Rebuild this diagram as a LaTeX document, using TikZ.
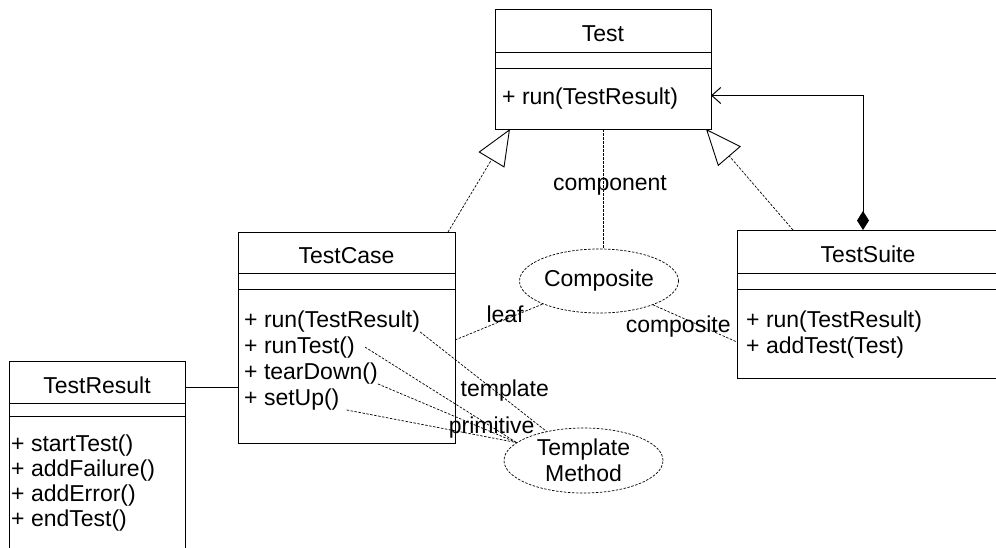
\documentclass[tikz,border=0pt]{standalone}
\usepackage{fontspec}
\setmainfont{Liberation Sans}
\usetikzlibrary{positioning,arrows.meta,shapes.geometric}

\begin{document}
\begin{tikzpicture}[x=1pt, y=-1pt, font=\fontsize{23}{26}\selectfont,
    box/.style={draw, line width=1pt, outer sep=0pt, inner sep=0pt},
    cname/.style={box, anchor=north west, text height=22pt, text depth=0pt},
    op/.style={anchor=base west, inner sep=0pt},
    dotline/.style={line width=0.7pt, dash pattern=on 2.5pt off 1.5pt},
    dpat/.style={ellipse, draw, dotline, inner sep=0pt, align=center},
    lbl/.style={inner sep=0pt},
    realize/.style={dotline, -{Triangle[open, length=36pt, width=30pt, line width=0.9pt]}},
    compose/.style={line width=1pt, {Diamond[length=19pt, width=12pt]}-{Straight Barb[length=9pt, width=16pt, line width=1pt]}},
    assoc/.style={line width=1pt}]
    \useasboundingbox (0,0) rectangle (996,547);
    \clip (0,0) rectangle (996,547);

    % Test
    \node[cname, minimum width=216pt, minimum height=43pt] (test) at (495,9) {Test};
    \node[box, below=0pt of test, minimum width=216pt, minimum height=16pt] (test-a) {};
    \node[box, below=0pt of test-a, minimum width=216pt, minimum height=61pt] (test-o) {};
    \node[op] (test-run) at ([shift={(7,36)}]test-o.north west) {+ run(TestResult)};

    % TestCase
    \node[cname, minimum width=217pt, minimum height=41pt] (tc) at (238,232) {TestCase};
    \node[box, below=0pt of tc, minimum width=217pt, minimum height=16pt] (tc-a) {};
    \node[box, below=0pt of tc-a, minimum width=217pt, minimum height=154pt] (tc-o) {};
    \foreach \n/\t [count=\i from 0] in {run/run(TestResult),runtest/runTest(),teardown/tearDown(),setup/setUp()}
        \node[op] (tc-\n) at ([shift={(6,38+26*\i)}]tc-o.north west) {+ \t};

    % TestSuite
    \node[cname, minimum width=262pt, minimum height=43pt] (ts) at (737,230) {TestSuite};
    \node[box, below=0pt of ts, minimum width=262pt, minimum height=16pt] (ts-a) {};
    \node[box, below=0pt of ts-a, minimum width=262pt, minimum height=89pt] (ts-o) {};
    \foreach \n/\t [count=\i from 0] in {run/run(TestResult),addtest/addTest(Test)}
        \node[op] (ts-\n) at ([shift={(9,38+26*\i)}]ts-o.north west) {+ \t};

    % TestResult
    \node[cname, minimum width=176pt, minimum height=42pt] (tr) at (9,361) {TestResult};
    \node[box, below=0pt of tr, minimum width=176pt, minimum height=13pt] (tr-a) {};
    \node[box, below=0pt of tr-a, minimum width=176pt, minimum height=200pt] (tr-o) {};
    \foreach \n/\t [count=\i from 0] in {start/startTest(),failure/addFailure(),error/addError(),end/endTest()}
        \node[op] (tr-\n) at ([shift={(2,35+25*\i)}]tr-o.north west) {+ \t};

    % patterns
    \node[dpat, minimum width=159pt, minimum height=64pt] (comp) at (599,281) {Composite};
    \node[dpat, minimum width=159pt, minimum height=65pt] (tm) at (583.5,460.5) {Template\\Method};

    % relations
    \draw[realize] ([xshift=-7pt]tc.north east) -- ([xshift=15pt]test-o.south west);
    \draw[realize] ([xshift=56pt]ts.north west) -- ([xshift=-5pt]test-o.south east);
    \draw[compose] ([xshift=-5pt]ts.north) |- ([yshift=3pt]test-o.east);
    \draw[assoc] ([yshift=-5pt]tr.east) -- ([yshift=-5pt]tr.east -| tc-o.west);

    \draw[dotline] (test-o.south) -- (test-o.south |- comp.north) node[lbl, pos=0.47, xshift=7pt] {component};
    \draw[dotline] ([yshift=26pt]tc-o.east) -- (comp) node[lbl, pos=0.57, yshift=5pt] {leaf};
    \draw[dotline] (comp) -- ([yshift=-8.5pt]ts-o.west) node[lbl, pos=0.3, yshift=-11pt] {composite};

    \draw[dotline] (tc-run.south east) -- (tm) node[lbl, pos=0.67, yshift=8pt] {template};
    \draw[dotline] ([xshift=10pt]tc-runtest.east) -- (tm.165);
    \draw[dotline] (tc-teardown.south east) -- (tm.165) node[lbl, pos=0.82, yshift=4pt] {primitive};
    \draw[dotline] ([xshift=7pt]tc-setup.south east) -- (tm.165);
\end{tikzpicture}
\end{document}
